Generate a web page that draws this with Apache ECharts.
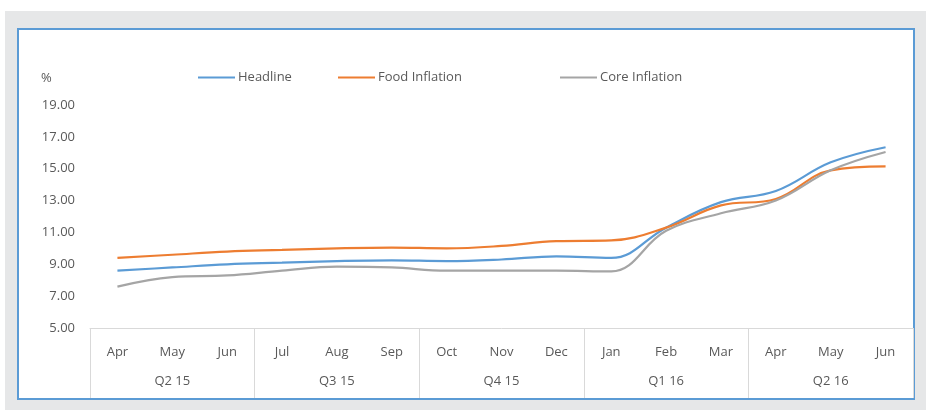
<!DOCTYPE html>
<html>
<head>
<meta charset="utf-8">
<script src="https://cdn.jsdelivr.net/npm/echarts@6/dist/echarts.min.js"></script>
<style>
  html, body { margin: 0; padding: 0; background: #fff; }
  .frame {
    position: absolute; left: 5px; top: 11px; width: 921px; height: 399px;
    background: #e6e7e8;
  }
  .card {
    position: absolute; left: 17px; top: 28px; width: 894px; height: 368px;
    background: #fff; border: 2px solid #5b9bd5;
  }
  #chart { position: absolute; left: 0; top: 0; width: 926px; height: 410px; }
</style>
</head>
<body>
<div class="frame"></div>
<div class="card"></div>
<div id="chart"></div>
<script>
const months = ['Apr', 'May', 'Jun', 'Jul', 'Aug', 'Sep', 'Oct', 'Nov', 'Dec', 'Jan', 'Feb', 'Mar', 'Apr', 'May', 'Jun']
const quarters = ['Q2 15', 'Q3 15', 'Q4 15', 'Q1 16', 'Q2 16']
const headline = [8.6, 8.8, 9.0, 9.1, 9.2, 9.25, 9.2, 9.3, 9.5, 9.4, 11.3, 12.9, 13.6, 15.4, 16.35]
const foodInflation = [9.4, 9.6, 9.8, 9.9, 10.0, 10.05, 10.0, 10.15, 10.45, 10.5, 11.3, 12.7, 13.1, 14.9, 15.15]
const coreInflation = [7.6, 8.2, 8.3, 8.6, 8.85, 8.8, 8.6, 8.6, 8.6, 8.55, 11.1, 12.2, 13.0, 14.9, 16.05]
const yTicks = [5, 7, 9, 11, 13, 15, 17, 19]

const chart = echarts.init(document.getElementById('chart'))
const textColor = '#595959'
const font = 'Open Sans'
const fontSize = 13
const lineGray = '#d9d9d9'

const legendItem = (name, left) => ({
  data: [name],
  left: left,
  top: 66,
  icon: 'rect',
  itemWidth: 37,
  itemHeight: 2,
  itemGap: 3,
  selectedMode: false,
  textStyle: { color: textColor, fontFamily: font, fontSize: fontSize, padding: [0, 0, 0, -2] }
})

const option = {
  animation: false,
  color: ['#5b9bd5', '#ed7d31', '#a5a5a5'],
  legend: [
    legendItem('Headline', 193),
    legendItem('Food Inflation', 333),
    legendItem('Core Inflation', 555)
  ],
  graphic: [{
    type: 'text', left: 41, top: 72,
    style: { text: '%', fill: textColor, font: fontSize + 'px ' + font }
  }],
  grid: { left: 90, right: 13, top: 105, bottom: 82 },
  xAxis: [
    {
      type: 'category',
      data: months,
      position: 'bottom',
      axisLine: { show: true, lineStyle: { color: lineGray } },
      axisTick: { show: false },
      axisLabel: { color: textColor, fontFamily: font, fontSize: fontSize, margin: 18, interval: 0 }
    },
    {
      type: 'category',
      data: quarters,
      position: 'bottom',
      axisLine: { show: false },
      axisTick: { show: true, length: 70, lineStyle: { color: lineGray } },
      axisLabel: { color: textColor, fontFamily: font, fontSize: fontSize, margin: 47 }
    }
  ],
  yAxis: {
    type: 'value',
    min: yTicks[0],
    max: yTicks[yTicks.length - 1],
    interval: 2,
    axisLine: { show: false },
    axisTick: { show: false },
    splitLine: { show: false },
    axisLabel: {
      color: textColor, fontFamily: font, fontSize: fontSize, margin: 15,
      formatter: v => v.toFixed(2)
    }
  },
  series: [
    { name: 'Headline', type: 'line', data: headline, smooth: 0.4, showSymbol: false, lineStyle: { width: 2.2 } },
    { name: 'Food Inflation', type: 'line', data: foodInflation, smooth: 0.4, showSymbol: false, lineStyle: { width: 2.2 } },
    { name: 'Core Inflation', type: 'line', data: coreInflation, smooth: 0.4, showSymbol: false, lineStyle: { width: 2.2 } }
  ]
}

chart.setOption(option)
</script>
</body>
</html>
